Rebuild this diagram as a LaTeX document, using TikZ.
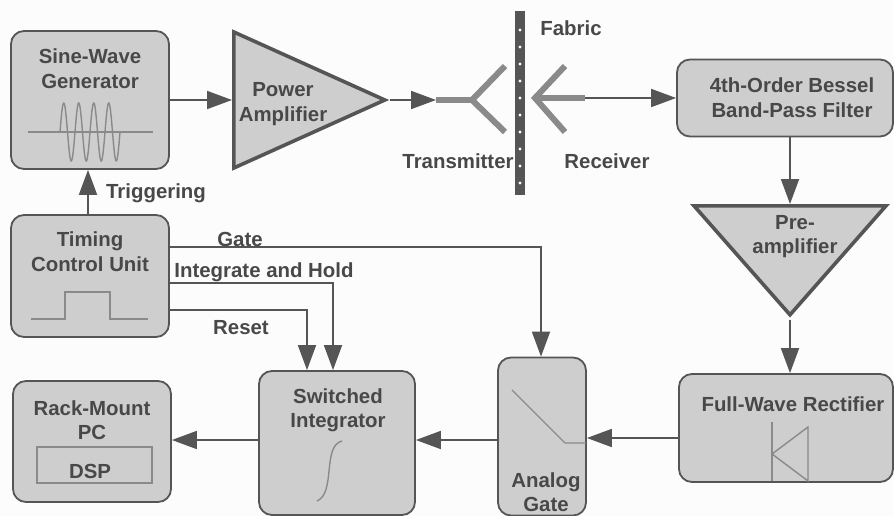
\documentclass[tikz,border=0pt]{standalone}
\usepackage{fontspec}
\setmainfont{Liberation Sans}
\usepackage{xcolor}
\usetikzlibrary{arrows.meta,shapes.geometric}
\definecolor{rigInk}{HTML}{555555}
\definecolor{rigText}{HTML}{484848}
\definecolor{rigFill}{HTML}{CECECE}
\definecolor{rigGlyph}{HTML}{8A8A8A}
\definecolor{rigPaper}{HTML}{FCFCFC}

\begin{document}
\begin{tikzpicture}[
  x=1pt, y=-1pt,
  unit/.style={draw=rigInk, line width=1.8pt, fill=rigFill, rounded corners=13pt, inner sep=0pt},
  amp/.style={draw=rigInk, line width=3.6pt, fill=rigFill, isosceles triangle, isosceles triangle stretches, inner sep=0pt, line join=miter},
  lbl/.style={align=center, text=rigText, inner sep=0pt, font=\fontsize{20.4}{24.5}\selectfont\bfseries},
  sig/.style={-{Triangle[length=25pt,width=18pt]}, line width=1.8pt, rigInk},
  glyph/.style={rigGlyph, line width=1.4pt},
  aerial/.style={rigGlyph, line width=6pt},
]
  \fill[rigPaper] (0,0) rectangle (894,516);
  \useasboundingbox (0,0) rectangle (894,516);

  % units
  \node[unit, minimum width=158pt, minimum height=138pt] (sine) at (90,100) {};
  \node[unit, minimum width=158pt, minimum height=122pt] (timing) at (90,276) {};
  \node[unit, minimum width=158pt, minimum height=121pt] (rack) at (92,441.5) {};
  \node[unit, minimum width=156pt, minimum height=144pt] (integ) at (337,443) {};
  \node[unit, minimum width=88pt, minimum height=158pt] (agate) at (542,436.5) {};
  \node[unit, minimum width=214pt, minimum height=108pt] (rect) at (786,428) {};
  \node[unit, minimum width=216pt, minimum height=77pt] (bessel) at (785,98) {};
  \node[amp, minimum width=136pt, minimum height=151pt, anchor=lower side] (power) at (232,100) {};
  \node[amp, shape border rotate=270, minimum width=192pt, minimum height=109pt, anchor=lower side] (pre) at (790,204) {};
  \node[draw=rigGlyph, line width=1.4pt, minimum width=115pt, minimum height=36pt, inner sep=0pt] (dsp) at (94.5,465) {};

  % fabric
  \node[fill=rigInk, minimum width=10pt, minimum height=184pt, inner sep=0pt] (fabric) at (520,103) {};
  \foreach \y in {30,47,64,81,98,115,132,149,166,183}
    \fill[white] (520,\y) circle (1.6pt);

  % texts
  \node[lbl] (sinetxt) at (90,68.5) {Sine-Wave\\Generator};
  \node[lbl] (powertxt) at (283,104) {Power\\Amplifier};
  \node[lbl] (timingtxt) at (90,251.5) {Timing\\Control Unit};
  \node[lbl] (racktxt) at (92,420) {Rack-Mount\\PC};
  \node[lbl] (dsptxt) at (90,471) {DSP};
  \node[lbl] (integtxt) at (338,410.5) {Switched\\Integrator};
  \node[lbl] (agatetxt) at (546,492) {Analog\\Gate};
  \node[lbl] (recttxt) at (793,404) {Full-Wave Rectifier};
  \node[lbl] (pretxt) at (795,236.5) {Pre-\\amplifier};
  \node[lbl] (besseltxt) at (792,97.5) {4th-Order Bessel\\Band-Pass Filter};
  \node[lbl] (fabrictxt) at (571,28) {Fabric};
  \node[lbl] (txtxt) at (458,161) {Transmitter};
  \node[lbl] (rxtxt) at (607,161) {Receiver};
  \node[lbl] (trigtxt) at (156,193) {Triggering};
  \node[lbl] (gatetxt) at (240,239) {Gate};
  \node[lbl] (holdtxt) at (264,272) {Integrate and Hold};
  \node[lbl] (resettxt) at (241,328) {Reset};

  % aerials
  \coordinate (tx) at (436,100);
  \coordinate (rx) at (585,98);
  \draw[aerial] (tx) -- (472,100);
  \draw[aerial] (505,66) -- (472,100) -- (505,132);
  \draw[aerial] (rx) -- (535,98);
  \draw[aerial] (565,66) -- (535,98) -- (565,132);

  % connectors
  \draw[sig] (sine.east) -- (power.lower side);
  \draw[sig] (power.apex) -- (tx);
  \draw[sig] (rx) -- (bessel.west);
  \draw[sig] ([xshift=-2pt]timing.north) -- ([xshift=-2pt]sine.south);
  \draw[sig] (bessel.south -| pre.apex) -- (pre.lower side);
  \draw[sig] (pre.apex) -- (rect.north -| pre.apex);
  \draw[sig] ([yshift=-10pt]rect.west) -- ([yshift=-1.5pt]agate.east);
  \draw[sig] ([yshift=-3.5pt]agate.west) -- ([yshift=3pt]integ.east);
  \draw[sig] ([yshift=3pt]integ.west) -- ([yshift=1.5pt]rack.east);
  \draw[sig] ([yshift=29pt]timing.east) -| ([xshift=-1pt]agate.north);
  \draw[sig] ([yshift=-7pt]timing.east) -| ([xshift=-4pt]integ.north);
  \draw[sig] ([yshift=-34pt]timing.east) -| ([xshift=-30pt]integ.north);

  % glyphs
  \draw[glyph] (28,132) -- (153,132);
  \draw[glyph] plot[domain=60:120, samples=120, smooth] (\x,{132-29*sin((\x-60)*24)});
  \draw[glyph] (31,319) -- (65,319) -- (65,292) -- (110,292) -- (110,319) -- (148,319);
  \draw[glyph] (317,501) .. controls (336,493) and (322,446) .. (342,441);
  \draw[glyph] (512,390) -- (565,443) -- (586,443);
  \draw[glyph] (772,422) -- (772,481);
  \draw[glyph] (808,481) -- (772,454) -- (808,427) -- cycle;
\end{tikzpicture}
\end{document}
